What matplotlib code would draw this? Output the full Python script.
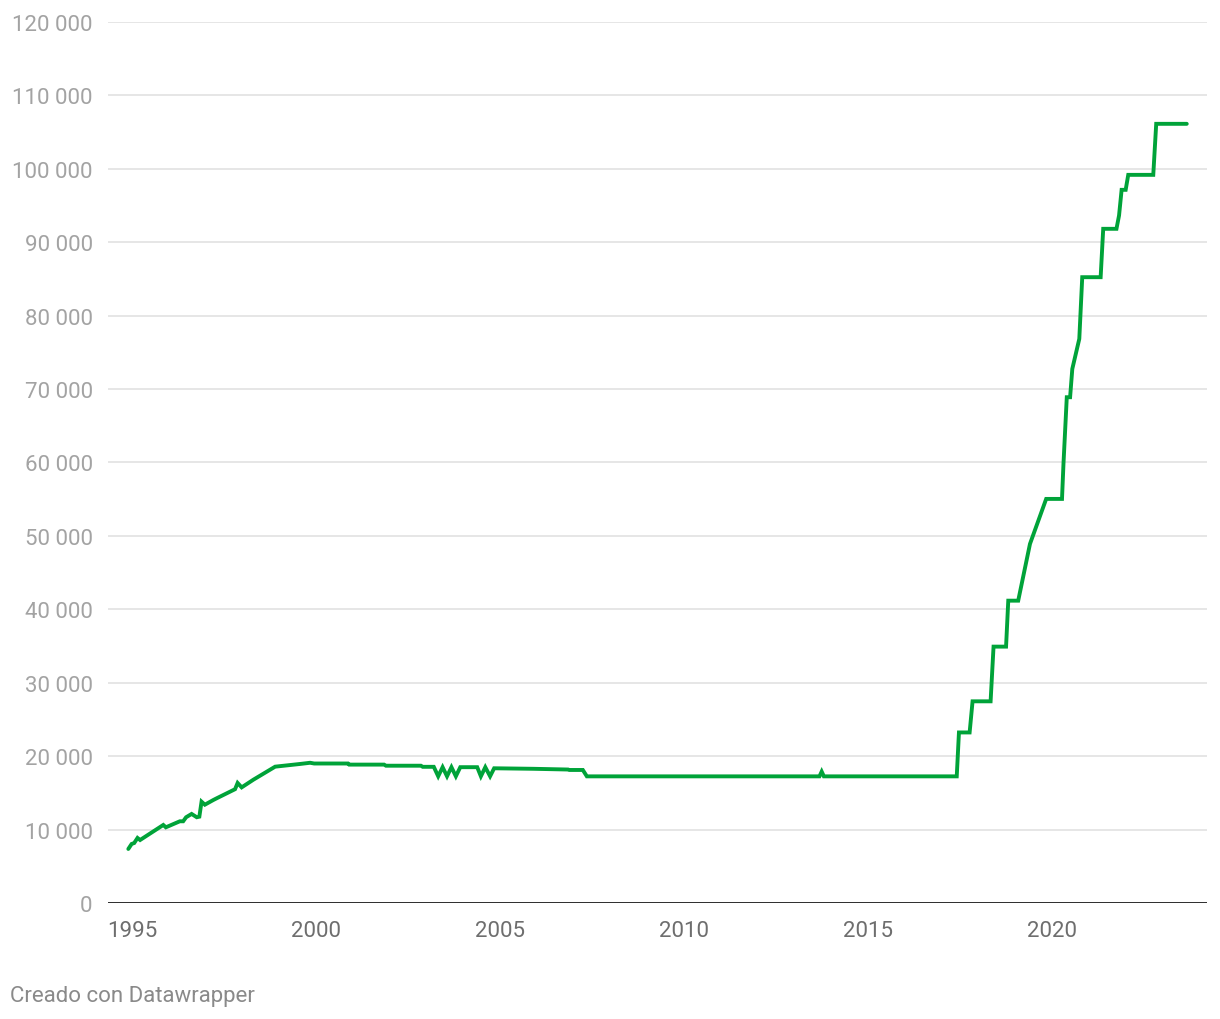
import matplotlib
matplotlib.use("Agg")
from matplotlib import pyplot as plt

plt.rcParams['font.family'] = ['Roboto', 'DejaVu Sans']

years = [1994.90, 1994.99, 1995.06, 1995.15, 1995.22, 1995.85, 1995.92,
         1996.30, 1996.39, 1996.47, 1996.62, 1996.76, 1996.83, 1996.89,
         1996.98, 1997.21, 1997.30, 1997.80, 1997.87, 1997.98, 1998.30,
         1998.89, 1999.57, 1999.84, 1999.95, 2000.87, 2000.90, 2001.85,
         2001.90, 2002.85, 2002.90, 2003.20, 2003.32, 2003.44, 2003.56,
         2003.68, 2003.80, 2003.92, 2004.38, 2004.48, 2004.60, 2004.73,
         2004.84, 2005.90, 2006.85, 2006.88, 2007.25, 2007.36, 2013.68,
         2013.74, 2013.80, 2017.41, 2017.47, 2017.76, 2017.84, 2018.33,
         2018.41, 2018.75, 2018.81, 2019.08, 2019.40, 2019.84, 2020.27,
         2020.31, 2020.40, 2020.49, 2020.55, 2020.74, 2020.82, 2021.32,
         2021.39, 2021.75, 2021.82, 2021.89, 2022.00, 2022.07, 2022.75,
         2022.83, 2023.66]
values = [7360, 8040, 8170, 8860, 8580, 10630, 10310,
          11130, 11130, 11680, 12130, 11680, 11760, 13800,
          13390, 14030, 14260, 15500, 16350, 15750, 16800,
          18570, 18940, 19100, 19000, 19000, 18850, 18850,
          18700, 18700, 18550, 18550, 17260, 18500, 17260,
          18500, 17260, 18500, 18500, 17260, 18500, 17260,
          18350, 18280, 18180, 18120, 18120, 17250, 17250,
          17900, 17250, 17250, 23230, 23230, 27470, 27470,
          34920, 34920, 41180, 41180, 48910, 55040, 55040,
          59810, 68890, 68890, 72750, 76840, 85240, 85240,
          91830, 91830, 93640, 97140, 97140, 99180, 99180,
          106130, 106130]

y_ticks = [0, 10000, 20000, 30000, 40000, 50000, 60000,
           70000, 80000, 90000, 100000, 110000, 120000]
x_ticks = [1995, 2000, 2005, 2010, 2015, 2020]

fig = plt.figure(figsize=(12.2, 10.2), dpi=100)
ax = fig.add_axes([108 / 1220, 1 - 904 / 1020, (1207 - 108) / 1220, (904 - 23) / 1020])

ax.plot(years, values, color='#00a339', linewidth=2.8,
        solid_joinstyle='miter', solid_capstyle='round', zorder=3)

ax.set_xlim(1994.348, 2024.21)
ax.set_ylim(0, 120000)

ax.set_yticks(y_ticks)
ax.set_yticklabels([f"{v:,}".replace(',', ' ') for v in y_ticks])
ax.set_xticks(x_ticks)
ax.set_xticklabels([str(y) for y in x_ticks])

for v in y_ticks[1:]:
    ax.axhline(v, color='#e1e1e1', linewidth=1.2, zorder=1)
ax.axhline(0, color='#1a1a1a', linewidth=2, zorder=2)

for s in ax.spines.values():
    s.set_visible(False)

ax.tick_params(axis='y', length=0, pad=11, labelsize=16, labelcolor='#a3a3a3')
ax.tick_params(axis='x', length=0, pad=12, labelsize=16, labelcolor='#6e6e6e')

fig.text(10 / 1220, 1 - 997 / 1020, 'Creado con Datawrapper', fontsize=16,
         color='#8a8a8a', ha='left', va='center')

fig.savefig('out.png', dpi=100, facecolor='white')
